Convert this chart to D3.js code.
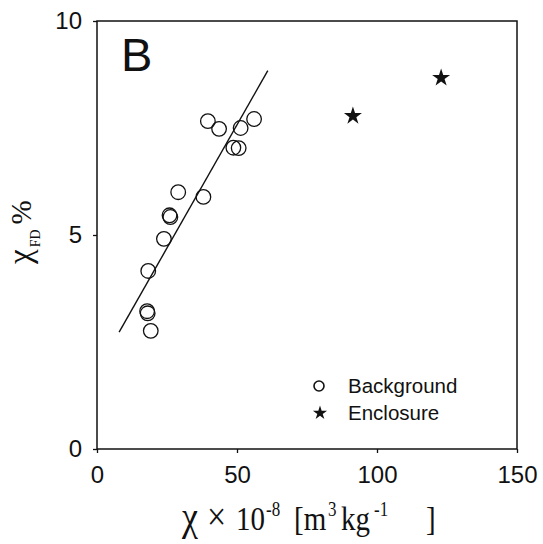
<!DOCTYPE html>
<html><head><meta charset="utf-8">
<script src="https://cdn.jsdelivr.net/npm/d3@7"></script>
<style>html,body{margin:0;padding:0;background:#fff;} svg{display:block;}</style>
</head><body>
<script>
// Data
const bgX = [39.6, 43.6, 51.3, 56.1, 48.7, 50.6, 29.0, 38.0, 25.9, 26.2, 23.9, 18.3, 17.9, 18.1, 19.2];
const bgY = [7.66, 7.48, 7.50, 7.71, 7.04, 7.03, 6.00, 5.89, 5.46, 5.42, 4.91, 4.16, 3.22, 3.17, 2.76];
const encX = [91.4, 122.9];
const encY = [7.78, 8.67];
const fitIntercept = 1.82;
const fitSlope = 0.1151;
const fitRange = [7.9, 61];
const xTicks = [0, 50, 100, 150];
const yTicks = [0, 5, 10];
const legendLabels = ["Background", "Enclosure"];

const W = 543, H = 544;
const svg = d3.select("body").append("svg").attr("width", W).attr("height", H);
const x = d3.scaleLinear().domain([0, 150]).range([97, 517]);
const y = d3.scaleLinear().domain([0, 10]).range([449, 21]);
const ink = "#111";

// frame
svg.append("rect").attr("x", x(0)).attr("y", y(10)).attr("width", x(150) - x(0)).attr("height", y(0) - y(10))
  .attr("fill", "none").attr("stroke", ink).attr("stroke-width", 1.5);

const xAxis = svg.append("g").attr("transform", `translate(0,${y(0)})`)
  .call(d3.axisBottom(x).tickValues(xTicks).tickSize(4).tickPadding(13).tickFormat(d3.format("d")));
const yAxis = svg.append("g").attr("transform", `translate(${x(0)},0)`)
  .call(d3.axisLeft(y).tickValues(yTicks).tickSize(4).tickPadding(11).tickFormat(d3.format("d")));
[xAxis, yAxis].forEach(g => {
  g.select(".domain").remove();
  g.selectAll("line").attr("stroke", ink).attr("stroke-width", 1.3);
  g.selectAll("text").attr("fill", ink).style("font-family", "'Liberation Sans', Arial, sans-serif").style("font-size", "24px");
});

// fit line
svg.append("line")
  .attr("x1", x(fitRange[0])).attr("y1", y(fitIntercept + fitSlope * fitRange[0]))
  .attr("x2", x(fitRange[1])).attr("y2", y(fitIntercept + fitSlope * fitRange[1]))
  .attr("stroke", ink).attr("stroke-width", 1.4);

// background circles
svg.append("g").selectAll("circle").data(bgX.map((v, i) => [v, bgY[i]])).join("circle")
  .attr("cx", d => x(d[0])).attr("cy", d => y(d[1])).attr("r", 7.3)
  .attr("fill", "none").attr("stroke", ink).attr("stroke-width", 1.3);

// enclosure stars
const star = d3.symbol().type(d3.symbolStar).size(100);
svg.append("g").selectAll("path").data(encX.map((v, i) => [v, encY[i]])).join("path")
  .attr("d", star).attr("transform", d => `translate(${x(d[0])},${y(d[1])})`).attr("fill", ink);

// legend
const lg = svg.append("g").style("font-family", "'Liberation Sans', Arial, sans-serif").style("font-size", "20.5px").attr("fill", ink);
lg.append("circle").attr("cx", 319).attr("cy", 386).attr("r", 5).attr("fill", "none").attr("stroke", ink).attr("stroke-width", 1.6);
lg.append("path").attr("d", d3.symbol().type(d3.symbolStar).size(62)).attr("transform", "translate(320,413)");
legendLabels.forEach((t, i) => {
  lg.append("text").attr("x", 348).attr("y", 393 + i * 27).text(t);
});

// panel letter
svg.append("text").attr("x", 121).attr("y", 71).text("B")
  .style("font-family", "'Liberation Sans', Arial, sans-serif").style("font-size", "47px").attr("fill", ink);

// x label (slightly tall serif, as in the reference)
const xl = svg.append("text").attr("transform", "translate(0,530) scale(1,1.18)")
  .style("font-family", "'Liberation Serif', 'Times New Roman', serif").style("font-size", "29px").attr("fill", ink);
const sup = "17px";
xl.append("tspan").attr("x", 182).style("font-size", "36px").text("χ");
xl.append("tspan").attr("x", 207).style("font-size", "34px").text("×");
xl.append("tspan").attr("x", 236).text("10");
xl.append("tspan").attr("x", 266).attr("dy", -12).style("font-size", sup).text("-8");
xl.append("tspan").attr("x", 294).attr("dy", 12).text("[m");
xl.append("tspan").attr("x", 328).attr("dy", -12).style("font-size", sup).text("3");
xl.append("tspan").attr("x", 341).attr("dy", 12).text("kg");
xl.append("tspan").attr("x", 374).attr("dy", -12).style("font-size", sup).text("-1");
xl.append("tspan").attr("x", 426).attr("dy", 12).text("]");

// y label
const yl = svg.append("text").attr("transform", "translate(31,264) rotate(-90)")
  .style("font-family", "'Liberation Serif', 'Times New Roman', serif").style("font-size", "30px").attr("fill", ink);
yl.append("tspan").style("font-size", "33px").text("χ");
yl.append("tspan").attr("dy", 9).attr("dx", 2).style("font-size", "14px").text("FD");
yl.append("tspan").attr("dy", -9).attr("dx", 5).style("font-size", "29px").text("%");
</script>
</body></html>
